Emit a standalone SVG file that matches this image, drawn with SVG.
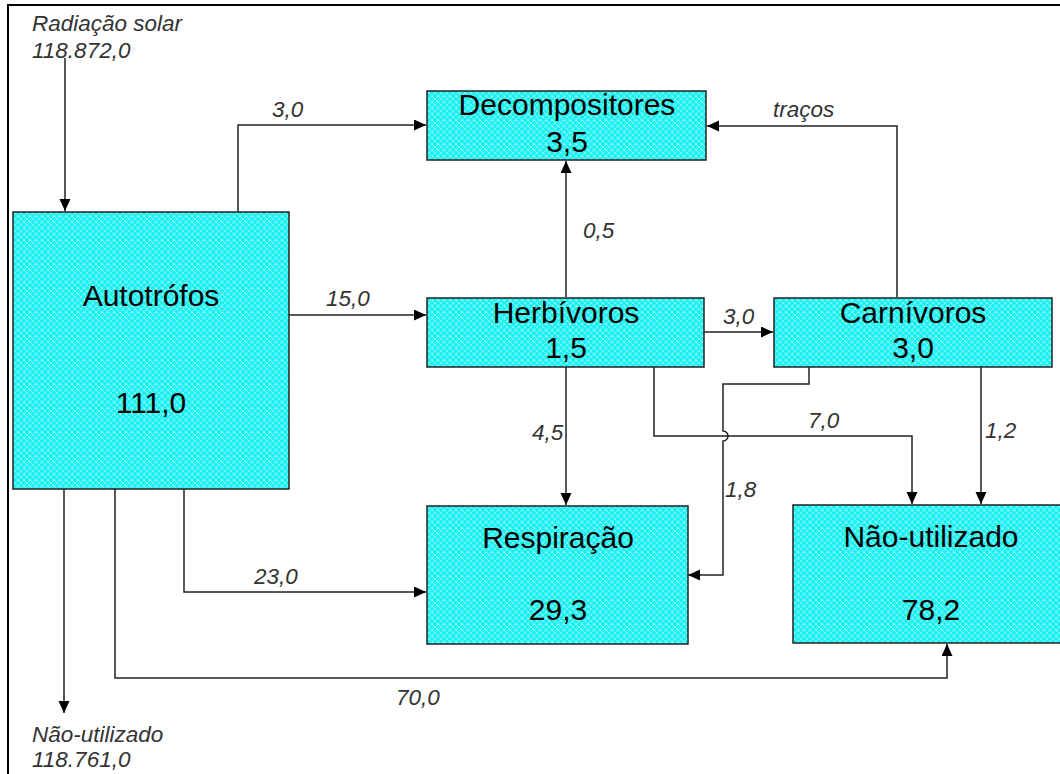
<svg xmlns="http://www.w3.org/2000/svg" width="1060" height="774" viewBox="0 0 1060 774">
<style>
.box{fill:url(#hatch);stroke:#222;stroke-width:1.5}
.nt{font-family:"Liberation Sans",Arial,sans-serif;font-size:30px;fill:#000;text-anchor:middle}
.lb{font-family:"Liberation Sans",Arial,sans-serif;font-size:22.5px;font-style:italic;fill:#333}
.cn{fill:none;stroke:#222;stroke-width:1.5}
</style>
<defs>
<pattern id="hatch" width="6" height="6" patternUnits="userSpaceOnUse">
<rect width="6" height="6" fill="#1CF0F0"/>
<path d="M0 0L6 6M6 0L0 6" stroke="#ffffff" stroke-width="0.7" stroke-opacity="0.5"/>
<rect x="0" y="0" width="1" height="1" fill="#ffffff" fill-opacity="0.7"/>
</pattern>
<marker id="ah" markerWidth="12" markerHeight="12" refX="12" refY="5.5" orient="auto" markerUnits="userSpaceOnUse">
<path d="M0 0L12 5.5L0 11Z" fill="#000"/>
</marker>
</defs>
<rect x="0" y="0" width="1060" height="774" fill="#fff"/>
<rect x="8" y="5" width="1100" height="800" fill="none" stroke="#000" stroke-width="2"/>

<g id="connectors">
<path class="cn" d="M65 58V211" marker-end="url(#ah)"/>
<path class="cn" d="M238 212V125H426" marker-end="url(#ah)"/>
<path class="cn" d="M289 315H426" marker-end="url(#ah)"/>
<path class="cn" d="M566 297V161" marker-end="url(#ah)"/>
<path class="cn" d="M897 297V126H707" marker-end="url(#ah)"/>
<path class="cn" d="M704 332H773" marker-end="url(#ah)"/>
<path class="cn" d="M566 367V505" marker-end="url(#ah)"/>
<path class="cn" d="M654 367V436H912V504" marker-end="url(#ah)"/>
<path class="cn" d="M809 367V384H723V431A5 5 0 0 1 723 441V575H688" marker-end="url(#ah)"/>
<path class="cn" d="M981 367V504" marker-end="url(#ah)"/>
<path class="cn" d="M184 489V592H426" marker-end="url(#ah)"/>
<path class="cn" d="M115 489V678H947V644" marker-end="url(#ah)"/>
<path class="cn" d="M64 489V713" marker-end="url(#ah)"/>
</g>

<g id="labels">
<text class="lb" x="32" y="31">Radiação solar</text>
<text class="lb" x="32" y="58">118.872,0</text>
<text class="lb" x="272" y="117">3,0</text>
<text class="lb" x="773" y="117">traços</text>
<text class="lb" x="583" y="238">0,5</text>
<text class="lb" x="326" y="306">15,0</text>
<text class="lb" x="723" y="324">3,0</text>
<text class="lb" x="808" y="428">7,0</text>
<text class="lb" x="532" y="440">4,5</text>
<text class="lb" x="985" y="438">1,2</text>
<text class="lb" x="725" y="497">1,8</text>
<text class="lb" x="254" y="584">23,0</text>
<text class="lb" x="396" y="705">70,0</text>
<text class="lb" x="32" y="742">Não-utilizado</text>
<text class="lb" x="32" y="767">118.761,0</text>
</g>

<g id="autotrofos">
<rect class="box" x="13" y="212" width="276" height="277"/>
<text class="nt" x="151" y="306">Autotrófos</text>
<text class="nt" x="151" y="413">111,0</text>
</g>
<g id="decompositores">
<rect class="box" x="427" y="91" width="279" height="69"/>
<text class="nt" x="567" y="115">Decompositores</text>
<text class="nt" x="567" y="152">3,5</text>
</g>
<g id="herbivoros">
<rect class="box" x="427" y="298" width="277" height="69"/>
<text class="nt" x="566" y="323">Herbívoros</text>
<text class="nt" x="566" y="358">1,5</text>
</g>
<g id="carnivoros">
<rect class="box" x="774" y="298" width="278" height="69"/>
<text class="nt" x="913" y="323">Carnívoros</text>
<text class="nt" x="913" y="358">3,0</text>
</g>
<g id="respiracao">
<rect class="box" x="427" y="506" width="261" height="138"/>
<text class="nt" x="558" y="548">Respiração</text>
<text class="nt" x="558" y="620">29,3</text>
</g>
<g id="nao-utilizado">
<rect class="box" x="793" y="505" width="277" height="138"/>
<text class="nt" x="931" y="547">Não-utilizado</text>
<text class="nt" x="931" y="620">78,2</text>
</g>
</svg>
